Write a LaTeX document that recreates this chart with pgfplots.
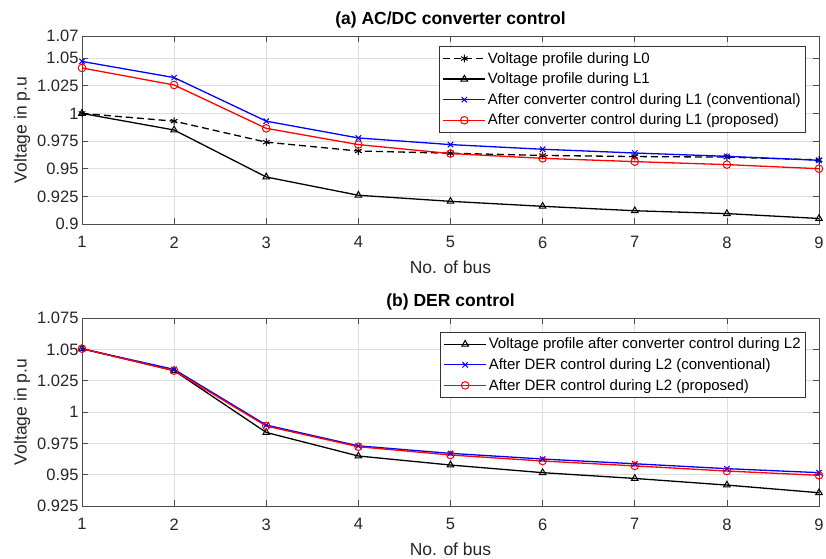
\documentclass[border=0pt]{standalone}
\usepackage{fontspec}
\setmainfont{Liberation Sans}
\usepackage{pgfplots}
\pgfplotsset{compat=1.18}
\definecolor{tickgray}{RGB}{38,38,38}
\definecolor{mblue}{RGB}{0,0,255}
\definecolor{mred}{RGB}{255,0,0}
\pgfplotsset{myaxis/.style={
  scale only axis, width=737pt, height=188pt,
  xmin=1, xmax=9, xtick={1,...,9},
  grid=major, grid style={black!13, line width=0.7pt},
  axis line style={black!70, line width=0.8pt},
  tick style={black!70, line width=0.7pt}, tick align=inside, major tick length=6pt,
  ticklabel style={font=\fontsize{16.5}{18}\selectfont, text=tickgray},
  xticklabel style={yshift=-9pt},
  /pgf/number format/assume math mode=true,
  label style={font=\fontsize{17.5}{20}\selectfont, text=tickgray},
  xlabel style={yshift=-6pt},
  title style={font=\bfseries\fontsize{17.5}{20}\selectfont, yshift=-2pt},
  xlabel={No. of bus}, ylabel={Voltage in p.u},
  legend style={font=\fontsize{15}{17}\selectfont, draw=black!80, line width=0.7pt,
    anchor=north east, inner xsep=3pt, inner ysep=4pt, row sep=4.2pt,
    /tikz/every even column/.append style={column sep=0pt}},
  legend cell align=left,
  legend image code/.code={\draw[mark repeat=2,mark phase=2] plot coordinates {(0pt,0pt)(21pt,0pt)(42pt,0pt)};},
  every axis plot/.append style={line width=1.3pt, mark size=3.8pt, mark options={solid, line width=1pt}},
}}
\begin{document}
\begin{tikzpicture}
\begin{axis}[myaxis, at={(82pt,-224pt)}, anchor=south west,
  title={(a) AC/DC converter control},
  ymin=0.9, ymax=1.07,
  ytick={0.9,0.925,0.95,0.975,1,1.025,1.05,1.07},
  yticklabels={0.9,0.925,0.95,0.975,1,1.025,1.05,1.07},
  legend style={at={(1,1)}, xshift=-13pt, yshift=-10pt}]
\addplot[black, dash pattern=on 7pt off 4pt, mark=asterisk] coordinates {
(1,1.000) (2,0.993) (3,0.974) (4,0.966) (5,0.964) (6,0.962) (7,0.961) (8,0.9605) (9,0.958)};
\addlegendentry{Voltage profile during L0}
\addplot[black, mark=triangle] coordinates {
(1,1.000) (2,0.985) (3,0.9425) (4,0.926) (5,0.9205) (6,0.916) (7,0.912) (8,0.9094) (9,0.905)};
\addlegendentry{Voltage profile during L1}
\addplot[mblue, mark=x] coordinates {
(1,1.047) (2,1.0324) (3,0.993) (4,0.9778) (5,0.9718) (6,0.9676) (7,0.9642) (8,0.9612) (9,0.9576)};
\addlegendentry{After converter control during L1 (conventional)}
\addplot[mred, mark=o] coordinates {
(1,1.0411) (2,1.0257) (3,0.9865) (4,0.9718) (5,0.9637) (6,0.9594) (7,0.9564) (8,0.9537) (9,0.950)};
\addlegendentry{After converter control during L1 (proposed)}
\end{axis}
\begin{axis}[myaxis, at={(82pt,-506pt)}, anchor=south west,
  title={(b) DER control},
  ymin=0.925, ymax=1.075,
  ytick={0.925,0.95,0.975,1,1.025,1.05,1.075},
  yticklabels={0.925,0.95,0.975,1,1.025,1.05,1.075},
  legend style={at={(1,1)}, xshift=-13pt, yshift=-13.7pt}]
\addplot[black, mark=triangle] coordinates {
(1,1.0505) (2,1.033) (3,0.9837) (4,0.9649) (5,0.9577) (6,0.9516) (7,0.947) (8,0.9417) (9,0.9356)};
\addlegendentry{Voltage profile after converter control during L2}
\addplot[mblue, mark=x] coordinates {
(1,1.0505) (2,1.034) (3,0.9896) (4,0.973) (5,0.967) (6,0.9625) (7,0.9587) (8,0.9548) (9,0.9516)};
\addlegendentry{After DER control during L2 (conventional)}
\addplot[mred, mark=o] coordinates {
(1,1.0505) (2,1.033) (3,0.9888) (4,0.9723) (5,0.9657) (6,0.9609) (7,0.957) (8,0.9529) (9,0.9495)};
\addlegendentry{After DER control during L2 (proposed)}
\end{axis}
\pgfresetboundingbox
\path (0pt,0pt) rectangle (826pt,-558pt);
\end{tikzpicture}
\end{document}
